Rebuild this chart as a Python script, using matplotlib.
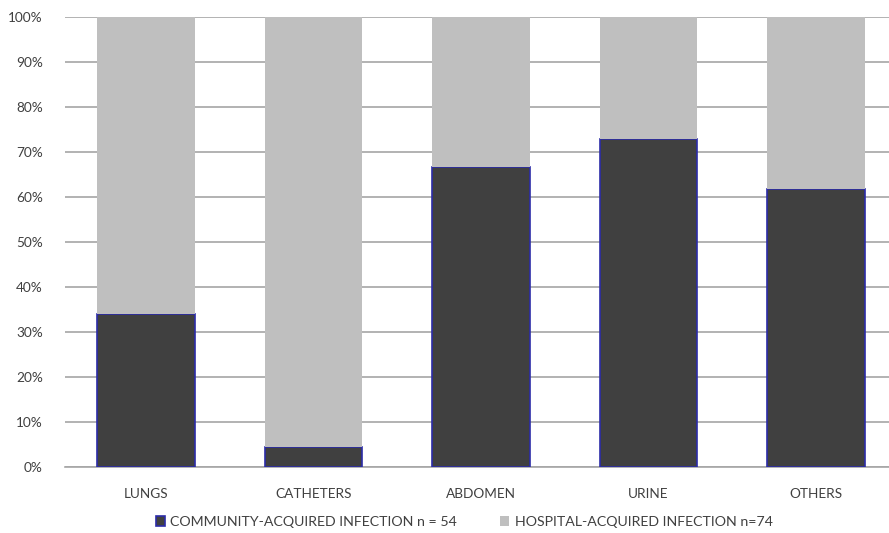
import matplotlib
matplotlib.use("Agg")
import matplotlib.pyplot as plt
from matplotlib.ticker import PercentFormatter
from matplotlib.patches import Patch

categories = ["LUNGS", "CATHETERS", "ABDOMEN", "URINE", "OTHERS"]
community = [34.0, 4.4, 66.7, 72.9, 61.8]
hospital = [100 - v for v in community]
series_labels = ["COMMUNITY-ACQUIRED INFECTION n = 54", "HOSPITAL-ACQUIRED INFECTION n=74"]

plt.rcParams['font.family'] = ['Lato', 'DejaVu Sans']
text_color = "#404040"

fig = plt.figure(figsize=(8.89, 5.33), dpi=100)
ax = fig.add_axes([0.0731, 0.1238, 0.9269, 0.8442])

x = list(range(len(categories)))
w = 0.58
ax.bar(x, community, width=w, color="#404040", edgecolor="#2c2ca8", linewidth=1.2, zorder=3)
ax.bar(x, hospital, width=w, bottom=community, color="#bfbfbf", linewidth=0, zorder=3)

ax.set_ylim(0, 100)
ax.set_xlim(-0.484, 4.436)
ax.set_yticks(range(0, 101, 10))
ax.yaxis.set_major_formatter(PercentFormatter(decimals=0))
ax.set_xticks(x)
ax.set_xticklabels(categories)
ax.grid(axis='y', color="#a6a6a6", linewidth=1.2, zorder=0)
ax.set_axisbelow(True)
for s in ["left", "right", "top"]:
    ax.spines[s].set_visible(False)
ax.spines["bottom"].set_color("#a6a6a6")
ax.spines["bottom"].set_linewidth(1.2)
ax.tick_params(axis='y', length=0, pad=16, labelsize=9.8, labelcolor=text_color)
ax.tick_params(axis='x', length=0, pad=15, labelsize=9.8, labelcolor=text_color)

handles = [Patch(facecolor="#404040", edgecolor="#2c2ca8", linewidth=1.2),
           Patch(facecolor="#bfbfbf", edgecolor="none")]
fig.legend(handles, series_labels, loc="center", bbox_to_anchor=(0.522, 0.021),
           ncol=2, frameon=False, fontsize=10.2, labelcolor=text_color,
           handlelength=0.65, handleheight=0.65, handletextpad=0.4, columnspacing=3.0)

fig.savefig("out.png", dpi=100, facecolor="white")
